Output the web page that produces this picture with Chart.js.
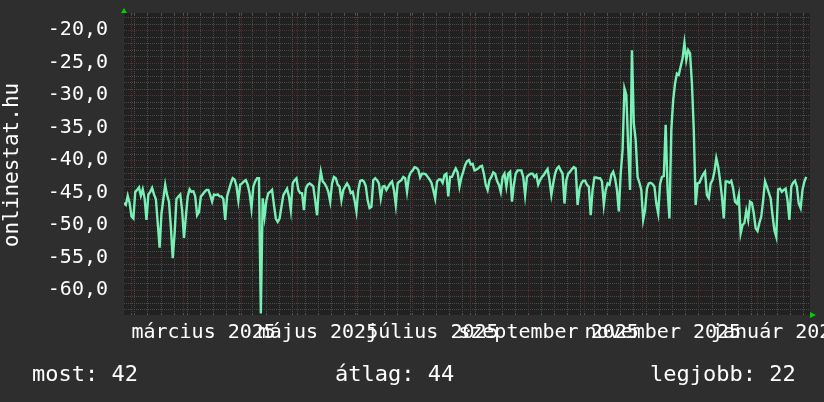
<!DOCTYPE html>
<html>
<head>
<meta charset="utf-8">
<script src="https://cdn.jsdelivr.net/npm/chart.js@4.4.1/dist/chart.umd.min.js"></script>
<style>
  html, body { margin: 0; padding: 0; background: #2e2e2e; }
  canvas { display: block; }
</style>
</head>
<body>
<canvas id="rankChart" width="824" height="402"></canvas>
<script>
// napi helyezés (negatívan ábrázolva), 2025-01-28-tól
const rankValues = [
  -46.6, -46.9, -45.5, -46.6, -48.7, -49.0, -44.9,
  -44.6, -44.2, -45.5, -44.5, -45.9, -49.2, -45.3,
  -44.9, -44.3, -45.3, -46.0, -49.7, -53.5, -48.2,
  -46.0, -43.8, -45.4, -46.4, -50.3, -55.1, -51.3,
  -46.0, -45.6, -45.3, -47.7, -52.0, -48.7, -45.6,
  -44.5, -44.9, -44.8, -45.6, -48.5, -48.0, -45.6,
  -45.3, -44.9, -44.6, -44.6, -45.4, -46.4, -45.3,
  -45.4, -45.3, -45.6, -45.6, -46.0, -49.2, -45.6,
  -44.6, -43.6, -42.8, -43.0, -44.0, -46.2, -43.8, -43.6,
  -43.3, -43.1, -43.8, -45.1, -47.4, -44.1, -43.3,
  -42.8, -42.8, -63.6, -45.9, -48.7, -46.2, -45.1,
  -44.9, -44.6, -46.9, -49.0, -49.5, -49.0, -47.2,
  -45.4, -44.9, -44.4, -45.6, -47.7, -43.6, -43.1,
  -42.8, -44.6, -45.1, -45.1, -47.7, -44.4, -43.8,
  -43.6, -43.8, -44.1, -46.2, -48.5, -44.1, -41.8,
  -43.3, -43.6, -44.1, -44.9, -46.4, -43.6, -42.6,
  -42.8, -43.8, -44.1, -46.2, -44.6, -44.1, -43.6,
  -44.1, -45.1, -44.9, -46.2, -47.9, -44.6,
  -43.2, -43.1, -43.3, -44.0, -46.2, -47.4, -47.2,
  -43.1, -42.8, -43.1, -43.6, -45.9, -44.1, -44.0,
  -44.6, -44.1, -43.6, -43.3, -44.6, -46.9, -43.6,
  -43.3, -43.1, -42.6, -42.8, -44.9, -42.6, -41.9,
  -41.6, -41.1, -41.2, -41.5, -42.7, -42.1, -42.1,
  -42.2, -42.6, -43.0, -43.5, -44.6, -45.9, -43.3,
  -43.0, -43.0, -43.5, -42.3, -42.1, -45.6, -42.6,
  -42.6, -41.9, -41.3, -41.9, -44.1, -42.7, -41.8,
  -40.8, -40.2, -40.0, -40.7, -40.6,
  -41.6, -41.5, -41.3, -41.0, -40.9, -42.1, -43.8,
  -44.6, -43.1, -42.6, -41.9, -42.1, -43.2, -43.8,
  -44.9, -42.6, -42.1, -44.1, -42.1, -41.8, -46.4,
  -43.8, -42.1, -41.6, -41.6, -41.6, -42.6, -45.4,
  -42.6, -42.3, -42.1, -42.1, -42.6, -42.3, -43.8,
  -43.1, -42.6, -42.3, -41.8, -41.4, -43.1, -45.4,
  -43.6, -42.1, -41.3, -41.0, -41.6, -42.1, -46.7,
  -43.1, -42.1, -41.8, -41.4, -41.1, -41.3, -46.9,
  -44.5, -43.6, -43.2, -43.2, -43.8,
  -44.1, -48.5, -44.6, -42.7, -42.7, -42.8, -42.8,
  -43.3, -46.9, -44.6, -43.6, -43.8, -42.3, -41.8,
  -42.8, -44.6, -47.9, -42.1, -38.5, -29.0, -30.0,
  -37.9, -44.6, -23.1, -34.4, -36.9, -42.6, -43.5,
  -44.6, -49.2, -47.7, -44.4, -43.6, -43.5, -43.7,
  -44.1, -46.7, -48.2, -43.7, -42.6, -42.5, -34.6,
  -44.5, -49.0, -35.4, -30.8, -28.2, -26.7, -26.9,
  -25.6, -24.4, -22.0, -24.6, -23.1, -23.6, -28.2,
  -35.4, -46.9, -43.6, -43.5, -42.8, -42.2, -41.8,
  -45.4, -45.9, -43.6, -43.1, -41.8, -39.7, -41.0,
  -43.1, -45.6, -49.0, -43.3, -43.3, -43.5, -43.2,
  -44.4, -46.4, -46.7, -45.4, -51.3, -50.0, -49.7,
  -47.8, -49.2, -46.4, -46.6, -48.2, -50.5, -50.9,
  -49.7, -48.7, -46.2, -43.3, -44.1, -45.0, -45.9,
  -48.5, -50.8, -51.8, -44.5, -44.4, -44.9, -44.6,
  -44.4, -46.2, -49.2, -44.1, -43.5, -43.2, -44.1,
  -46.7, -47.4, -44.6, -43.3, -42.6
];

const yTickValues = [-60, -55, -50, -45, -40, -35, -30, -25, -20];
const xLabels = ["március 2025", "május 2025", "július 2025", "szeptember 2025", "november 2025", "január 2026"];
const xLabelMonths = [[2025, 2], [2025, 4], [2025, 6], [2025, 8], [2025, 10], [2026, 0]];
const legendTexts = ["most: 42", "átlag: 44", "legjobb: 22"];
const titleText = "onlinestat.hu";

// napok a kezdéstől (2025-01-28 12:00 UTC)
const startMs = Date.UTC(2025, 0, 28, 12);
const dayOf = (y, m, d) => (Date.UTC(y, m, d) - startMs) / 86400000;

const monthStarts = [];
for (let i = 1; i <= 12; i++) monthStarts.push(dayOf(2025, i, 1));
const weekStarts = [];
for (let d = dayOf(2025, 1, 3); d < 366; d += 7) weekStarts.push(d);
const labelDays = xLabelMonths.map(([y, m]) => dayOf(y, m, 1) + 11);

const FONT = "'DejaVu Sans Mono', monospace";
const getEle = (id) => document.getElementById(id);

const rrdLook = {
  id: "rrdLook",
  beforeDraw(chart) {
    const { ctx, chartArea: a } = chart;
    ctx.save();
    ctx.fillStyle = "#2e2e2e";
    ctx.fillRect(0, 0, chart.width, chart.height);
    ctx.fillStyle = "#212121";
    ctx.fillRect(a.left, a.top, a.right - a.left, a.bottom - a.top);
    ctx.restore();
  },
  beforeDatasetsDraw(chart) {
    const { ctx, chartArea: a, scales: { x, y } } = chart;
    const hLine = (v, color) => {
      const py = Math.round(y.getPixelForValue(v)) + 0.5;
      ctx.strokeStyle = color;
      ctx.beginPath(); ctx.moveTo(a.left, py); ctx.lineTo(a.right, py); ctx.stroke();
    };
    const vLine = (d, color) => {
      const px = Math.round(x.getPixelForValue(d)) + 0.5;
      if (px < a.left || px > a.right) return;
      ctx.strokeStyle = color;
      ctx.beginPath(); ctx.moveTo(px, a.top); ctx.lineTo(px, a.bottom); ctx.stroke();
    };
    ctx.save();
    ctx.lineWidth = 1;
    ctx.setLineDash([1, 1]);
    for (let v = Math.ceil(y.min); v <= Math.floor(y.max); v++) {
      if (v % 5 !== 0) hLine(v, "#4a4a4a");
    }
    weekStarts.forEach((d) => vLine(d, "#4a4a4a"));
    yTickValues.forEach((v) => hLine(v, "#5e2e2e"));
    monthStarts.forEach((d) => vLine(d, "#5e2e2e"));

    // rövid jelölők a keret szélén
    ctx.setLineDash([]);
    ctx.strokeStyle = "#555";
    weekStarts.concat(monthStarts).forEach((d) => {
      const px = Math.round(x.getPixelForValue(d)) + 0.5;
      if (px < a.left || px > a.right) return;
      ctx.beginPath(); ctx.moveTo(px, a.top); ctx.lineTo(px, a.top + 2);
      ctx.moveTo(px, a.bottom - 2); ctx.lineTo(px, a.bottom); ctx.stroke();
    });
    ctx.restore();
  },
  afterDraw(chart) {
    const { ctx, chartArea: a } = chart;
    ctx.save();
    // tengely nyilak
    ctx.fillStyle = "#00d000";
    ctx.beginPath();
    ctx.moveTo(a.left - 3, a.top); ctx.lineTo(a.left + 3, a.top); ctx.lineTo(a.left, a.top - 5);
    ctx.closePath(); ctx.fill();
    ctx.beginPath();
    ctx.moveTo(a.right, a.bottom - 3); ctx.lineTo(a.right, a.bottom + 3); ctx.lineTo(a.right + 6, a.bottom);
    ctx.closePath(); ctx.fill();

    // függőleges cím
    ctx.fillStyle = "#ffffff";
    ctx.font = `21px ${FONT}`;
    ctx.textAlign = "center";
    ctx.textBaseline = "alphabetic";
    ctx.translate(18, 165);
    ctx.rotate(-Math.PI / 2);
    ctx.fillText(titleText, 0, 0);
    ctx.restore();

    // jelmagyarázat sor
    ctx.save();
    ctx.fillStyle = "#ffffff";
    ctx.font = `22px ${FONT}`;
    ctx.textBaseline = "alphabetic";
    const legendX = [32, 335, 650];
    legendTexts.forEach((t, i) => ctx.fillText(t, legendX[i], 381));
    ctx.restore();
  },
};

new Chart(getEle("rankChart"), {
  type: "line",
  data: {
    datasets: [
      {
        label: titleText,
        data: rankValues.map((v, i) => ({ x: i, y: v })),
        borderColor: "#78f0b6",
        borderWidth: 2.4,
        pointRadius: 0,
        tension: 0,
        fill: false,
      },
    ],
  },
  options: {
    responsive: false,
    animation: false,
    layout: { padding: { top: 13, right: 14, left: 0, bottom: 0 } },
    plugins: { legend: { display: false }, tooltip: { enabled: false } },
    scales: {
      x: {
        type: "linear",
        min: 0,
        max: 366,
        border: { display: false },
        grid: { display: false, drawTicks: false },
        afterBuildTicks: (s) => { s.ticks = labelDays.map((v) => ({ value: v })); },
        afterFit: (s) => { s.height = 87; s.paddingLeft = 0; s.paddingRight = 0; },
        ticks: {
          autoSkip: false,
          maxRotation: 0,
          minRotation: 0,
          padding: 6,
          color: "#ffffff",
          font: { family: FONT, size: 20 },
          callback: (v, i) => xLabels[i],
        },
      },
      y: {
        min: -63.85,
        max: -17.38,
        border: { display: false },
        grid: { display: false, drawTicks: false },
        afterBuildTicks: (s) => { s.ticks = yTickValues.map((v) => ({ value: v })); },
        afterFit: (s) => { s.width = 124; s.paddingTop = 0; s.paddingBottom = 0; },
        ticks: {
          padding: 16,
          color: "#ffffff",
          font: { family: FONT, size: 20 },
          callback: (v) => v.toFixed(1).replace(".", ","),
        },
      },
    },
  },
  plugins: [rrdLook],
});
</script>
</body>
</html>
